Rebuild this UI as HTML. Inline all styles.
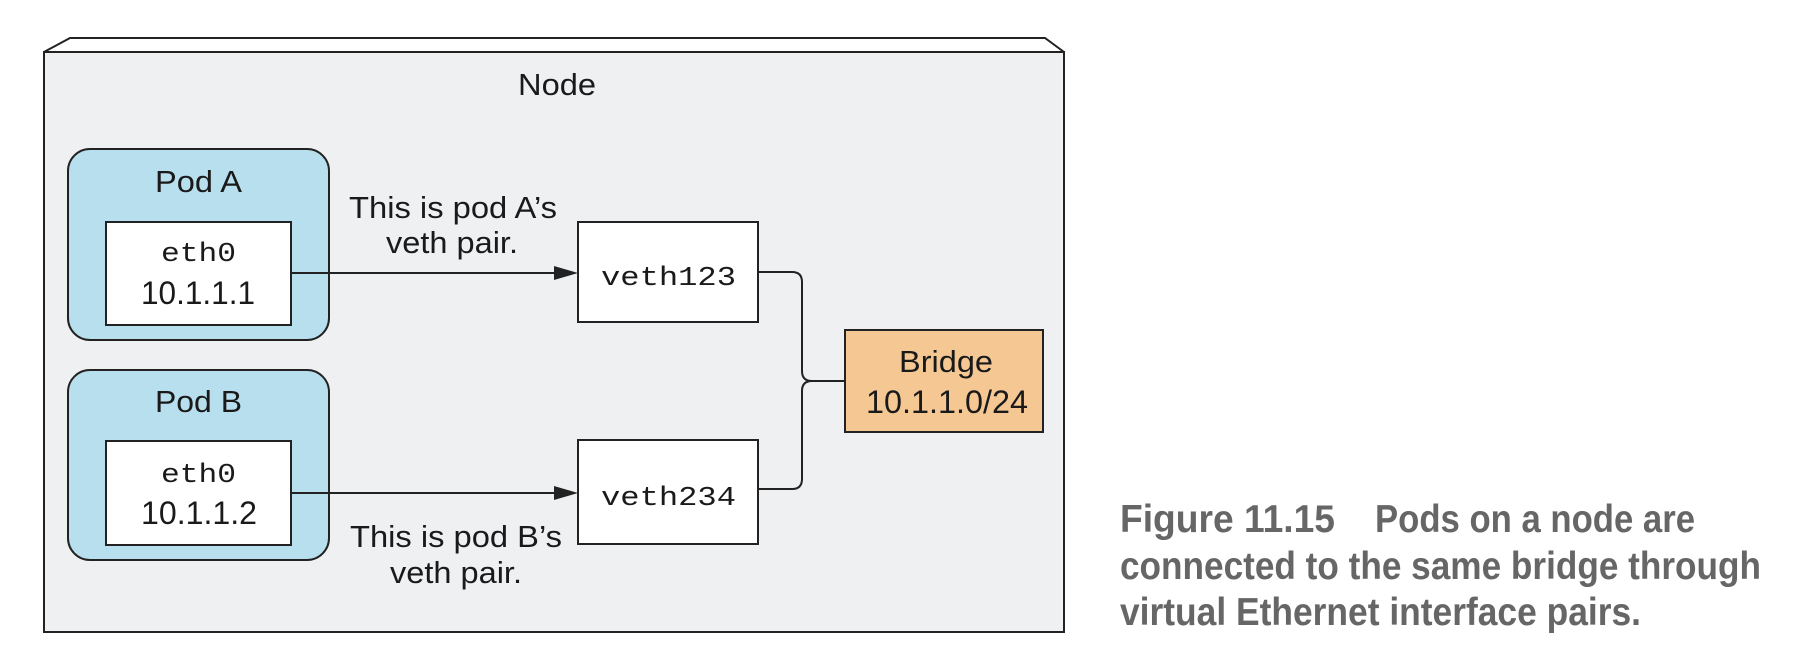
<!DOCTYPE html>
<html><head><meta charset="utf-8"><style>
html,body{margin:0;padding:0;background:#fff;}
svg{display:block;}
text{font-family:"Liberation Sans",sans-serif;fill:#1a1a1a;}
.m{font-family:"Liberation Mono",monospace;}
.c{font-weight:bold;fill:#666;}
</style></head><body>
<svg width="1798" height="666" viewBox="0 0 1798 666" xmlns="http://www.w3.org/2000/svg">
<rect x="44" y="52" width="1020" height="580" fill="#eff0f2" stroke="#222" stroke-width="2"/>
<polyline points="44,52 70,38 1045,38 1064,52" fill="none" stroke="#222" stroke-width="2"/>
<text x="518" y="95" font-size="31" textLength="78" lengthAdjust="spacingAndGlyphs">Node</text>

<rect x="68" y="149" width="261" height="191" rx="22" fill="#b8dfee" stroke="#222" stroke-width="2"/>
<text x="155" y="192" font-size="31" textLength="87" lengthAdjust="spacingAndGlyphs">Pod A</text>
<rect x="106" y="222" width="185" height="103" fill="#fff" stroke="#222" stroke-width="2"/>
<text class="m" x="161" y="261" font-size="27" textLength="75" lengthAdjust="spacingAndGlyphs">eth0</text>
<text x="141" y="304" font-size="32" textLength="114" lengthAdjust="spacingAndGlyphs">10.1.1.1</text>

<rect x="68" y="370" width="261" height="190" rx="22" fill="#b8dfee" stroke="#222" stroke-width="2"/>
<text x="155" y="412" font-size="31" textLength="87" lengthAdjust="spacingAndGlyphs">Pod B</text>
<rect x="106" y="441" width="185" height="104" fill="#fff" stroke="#222" stroke-width="2"/>
<text class="m" x="161" y="482" font-size="27" textLength="75" lengthAdjust="spacingAndGlyphs">eth0</text>
<text x="141" y="524" font-size="32" textLength="116" lengthAdjust="spacingAndGlyphs">10.1.1.2</text>

<rect x="578" y="222" width="180" height="100" fill="#fff" stroke="#222" stroke-width="2"/>
<text class="m" x="601" y="285" font-size="27" textLength="135" lengthAdjust="spacingAndGlyphs">veth123</text>
<rect x="578" y="440" width="180" height="104" fill="#fff" stroke="#222" stroke-width="2"/>
<text class="m" x="601" y="505" font-size="27" textLength="135" lengthAdjust="spacingAndGlyphs">veth234</text>

<rect x="845" y="330" width="198" height="102" fill="#f5c893" stroke="#222" stroke-width="2"/>
<text x="899" y="372" font-size="31" textLength="94" lengthAdjust="spacingAndGlyphs">Bridge</text>
<text x="866" y="413" font-size="32" textLength="162" lengthAdjust="spacingAndGlyphs">10.1.1.0/24</text>

<line x1="291" y1="273" x2="560" y2="273" stroke="#222" stroke-width="2"/>
<polygon points="578,273 554,266 554,280" fill="#222"/>
<line x1="291" y1="493" x2="560" y2="493" stroke="#222" stroke-width="2"/>
<polygon points="578,493 554,486 554,500" fill="#222"/>

<path d="M758,272 H792 Q802,272 802,282 V371 Q802,381 812,381 H845" fill="none" stroke="#222" stroke-width="2"/>
<path d="M758,489 H792 Q802,489 802,479 V391 Q802,381 812,381" fill="none" stroke="#222" stroke-width="2"/>

<text x="349" y="218" font-size="31" textLength="208" lengthAdjust="spacingAndGlyphs">This is pod A’s</text>
<text x="386" y="253" font-size="31" textLength="132" lengthAdjust="spacingAndGlyphs">veth pair.</text>
<text x="350" y="547" font-size="31" textLength="212" lengthAdjust="spacingAndGlyphs">This is pod B’s</text>
<text x="390" y="583" font-size="31" textLength="132" lengthAdjust="spacingAndGlyphs">veth pair.</text>

<text class="c" x="1120" y="532" font-size="39" textLength="215" lengthAdjust="spacingAndGlyphs">Figure 11.15</text>
<text class="c" x="1375" y="532" font-size="39" textLength="320" lengthAdjust="spacingAndGlyphs">Pods on a node are</text>
<text class="c" x="1120" y="579" font-size="39" textLength="641" lengthAdjust="spacingAndGlyphs">connected to the same bridge through</text>
<text class="c" x="1120" y="625" font-size="39" textLength="521" lengthAdjust="spacingAndGlyphs">virtual Ethernet interface pairs.</text>
</svg>
</body></html>
